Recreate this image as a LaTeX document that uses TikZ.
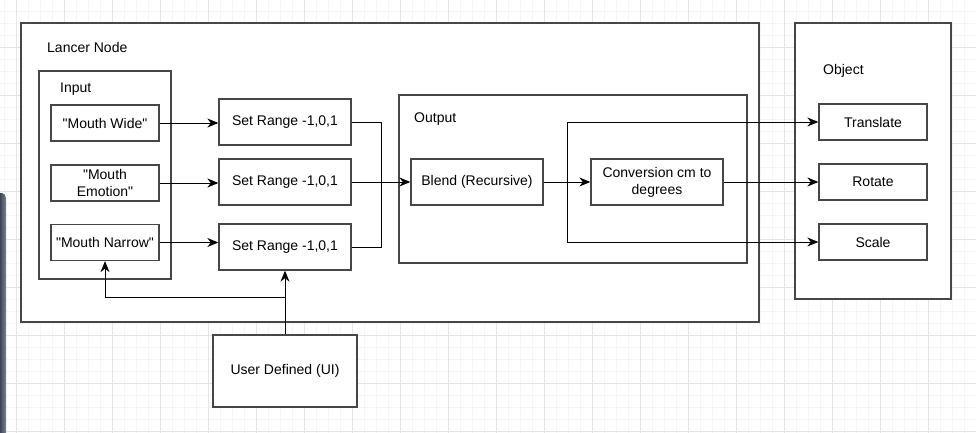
\documentclass[tikz,border=0pt]{standalone}
\usepackage{fontspec}
\setmainfont{Liberation Sans}[Ligatures=TeXOff]
\usetikzlibrary{arrows.meta,positioning}

\definecolor{barleft}{HTML}{3E4653}
\definecolor{barright}{HTML}{7A8494}

\begin{document}
\begin{tikzpicture}[x=1pt,y=-1pt,>={Stealth[length=11pt,width=9pt,inset=3.5pt]},
    font=\fontsize{14}{17}\selectfont,node distance=60pt,
    minorline/.style={draw=black!4,line width=0.8pt},
    majorline/.style={draw=black!10,line width=0.8pt},
    frame/.style={draw=black!72,line width=1.3pt,fill=white},
    block/.style={frame,inner sep=0pt,align=center},
    small/.style={block,minimum width=108pt,minimum height=36pt},
    wide/.style={block,minimum width=132pt,minimum height=46pt},
    tag/.style={anchor=base west,inner sep=0pt},
    link/.style={line width=1pt}]
      \useasboundingbox (0,0) rectangle (976,433);
      \fill[white] (0,0) rectangle (976,433);

      \foreach \gx in {4,16,...,976} \draw[minorline] (\gx,0) -- (\gx,433);
      \foreach \gy in {11,23,...,433} \draw[minorline] (0,\gy) -- (976,\gy);
      \foreach \gx in {16,64,...,976} \draw[majorline] (\gx,0) -- (\gx,433);
      \foreach \gy in {47,95,...,433} \draw[majorline] (0,\gy) -- (976,\gy);

      \shade[left color=barleft,right color=barright]
        (0,433) -- (0,193) -- (2,193) to[out=0,in=90] (6,198) -- (6,433) -- cycle;

      \draw[frame] (21,23) rectangle (759,322);
      \draw[frame] (39,71) rectangle (171,279);
      \draw[frame] (399,95) rectangle (747,263);
      \draw[frame] (795,23) rectangle (951,299);

      \node[tag] (lancer) at (47,53) {Lancer Node};
      \node[tag] (input) at (60,93) {Input};
      \node[tag] (output) at (414,122) {Output};
      \node[tag] (object) at (823,75) {Object};

      \node[small] (wide) at (105,123) {"Mouth Wide"};
      \node[small] (emotion) [below of=wide] {"Mouth\\Emotion"};
      \node[small] (narrow) at (105,242.5) {"Mouth Narrow"};

      \node[wide] (range1) at (285,122) {Set Range -1,0,1};
      \node[wide] (range2) [below of=range1] {Set Range -1,0,1};
      \node[wide] (range3) at (285,247) {Set Range -1,0,1};

      \node[wide] (blend) at (477,182) {Blend (Recursive)};
      \node[wide] (conv) [right of=blend,node distance=180pt] {Conversion cm to\\degrees};

      \node[small] (translate) at (873,122) {Translate};
      \node[small] (rotate) [below of=translate] {Rotate};
      \node[small] (scale) [below of=rotate] {Scale};

      \node[block,minimum width=144pt,minimum height=72pt] (ui) at (285,371) {User Defined (UI)};

      \coordinate (merge) at (381,182);
      \coordinate (split) at (567,182);
      \coordinate (branch) at (285,297);

      \path[->,link]
      (wide) edge (wide -| range1.west)
      (emotion) edge (emotion -| range2.west)
      (narrow) edge (narrow -| range3.west)
      (range2) edge (blend)
      (blend) edge (conv)
      (conv) edge (rotate)
      (ui) edge (range3)
      ;

      \draw[link] (range1) -| (merge);
      \draw[link] (range3) -| (merge);
      \draw[->,link] (split) |- (translate);
      \draw[->,link] (split) |- (scale);
      \draw[->,link] (branch) -| (narrow);
    \end{tikzpicture}
\end{document}
